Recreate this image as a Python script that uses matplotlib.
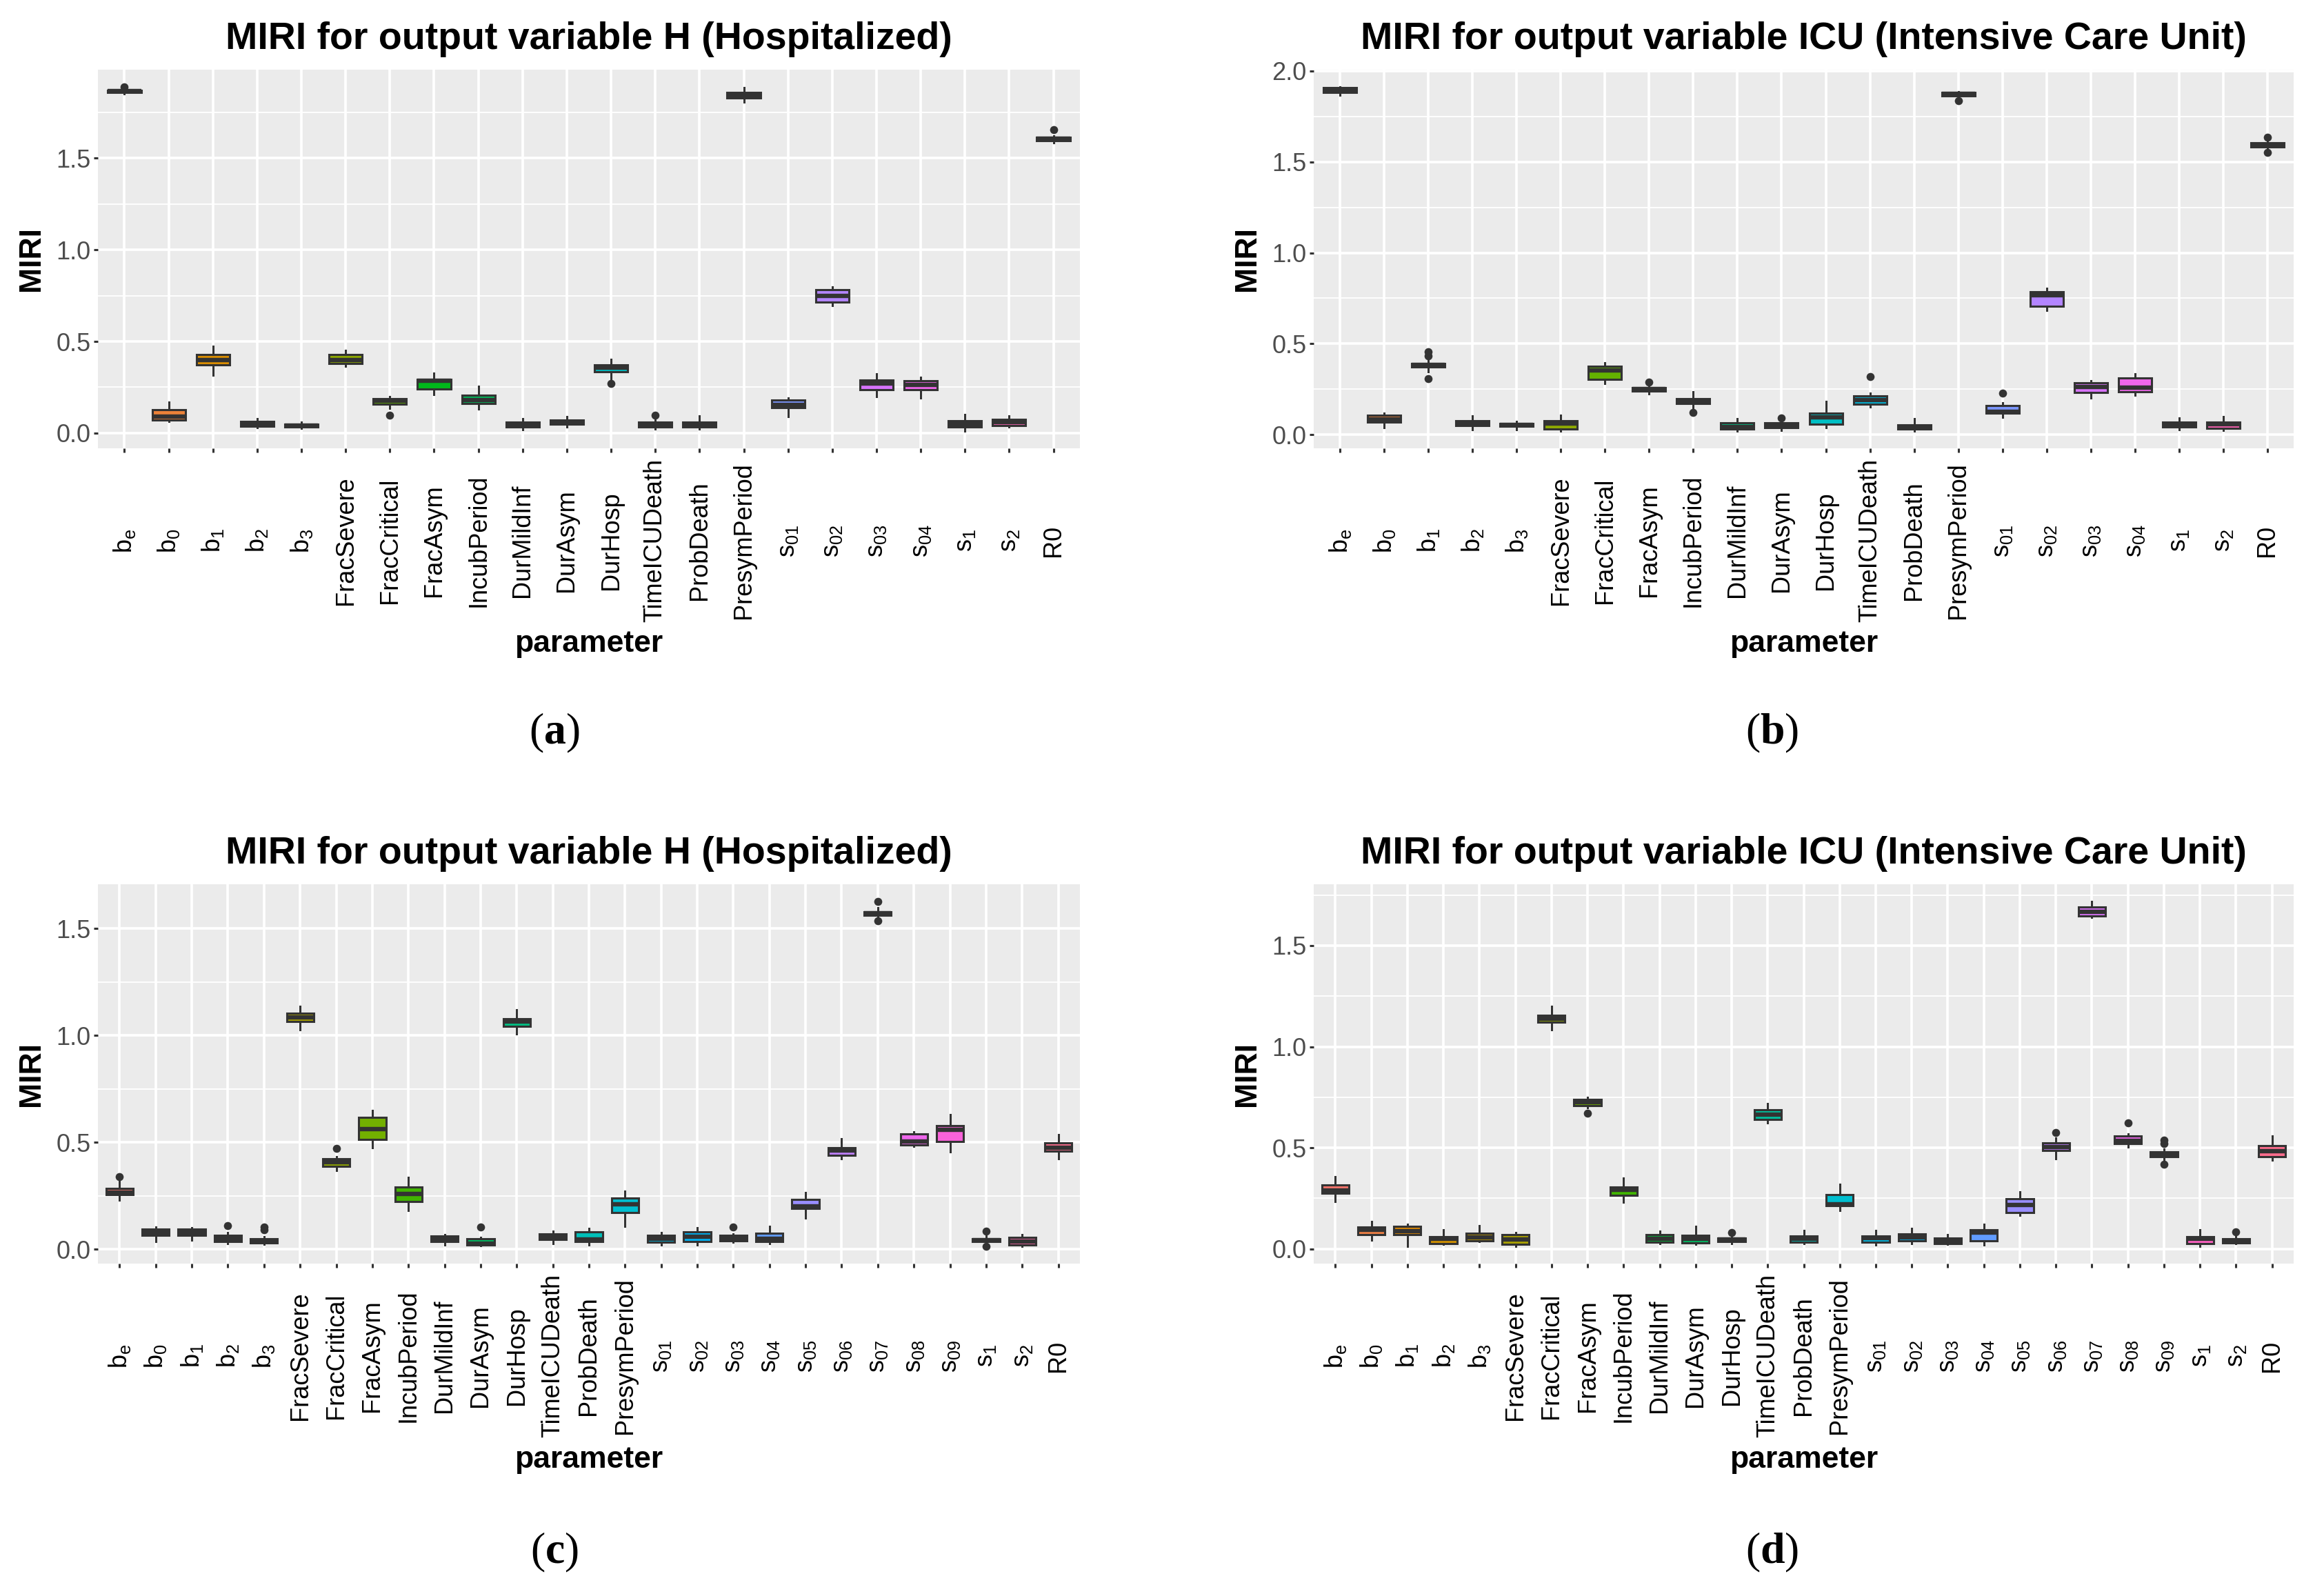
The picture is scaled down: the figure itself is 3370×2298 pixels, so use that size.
import numpy as np
import matplotlib
matplotlib.use("Agg")
import matplotlib.pyplot as plt
from matplotlib.ticker import MultipleLocator

plt.rcParams['font.family'] = ['Liberation Sans', 'DejaVu Sans']
plt.rcParams['mathtext.fontset'] = 'custom'
plt.rcParams['mathtext.bf'] = 'Liberation Serif:bold'
plt.rcParams['mathtext.default'] = 'regular'

# ---- categories ----
base_params = ['b$_e$', 'b$_0$', 'b$_1$', 'b$_2$', 'b$_3$', 'FracSevere', 'FracCritical',
               'FracAsym', 'IncubPeriod', 'DurMildInf', 'DurAsym', 'DurHosp',
               'TimeICUDeath', 'ProbDeath', 'PresymPeriod']
params_ab = base_params + ['s$_{01}$', 's$_{02}$', 's$_{03}$', 's$_{04}$', 's$_1$', 's$_2$', 'R0']
params_cd = base_params + ['s$_{0%d}$' % i for i in range(1, 10)] + ['s$_1$', 's$_2$', 'R0']

# ---- panel (a): H, 22 parameters ----
lo_a = [1.852, 0.062, 0.315, 0.030, 0.025, 0.364, 0.136, 0.211, 0.132, 0.020, 0.033,
        0.287, 0.024, 0.021, 1.805, 0.090, 0.695, 0.199, 0.192, 0.011, 0.033, 1.585]
q1_a = [1.858, 0.072, 0.372, 0.036, 0.032, 0.381, 0.157, 0.239, 0.163, 0.033, 0.047,
        0.335, 0.033, 0.034, 1.828, 0.138, 0.713, 0.238, 0.238, 0.034, 0.041, 1.594]
med_a = [1.864, 0.090, 0.398, 0.050, 0.040, 0.398, 0.178, 0.284, 0.179, 0.043, 0.058,
         0.357, 0.045, 0.047, 1.843, 0.153, 0.749, 0.269, 0.264, 0.050, 0.060, 1.604]
q3_a = [1.870, 0.129, 0.428, 0.063, 0.050, 0.428, 0.189, 0.294, 0.205, 0.060, 0.070,
        0.374, 0.060, 0.060, 1.857, 0.179, 0.782, 0.288, 0.284, 0.069, 0.075, 1.614]
hi_a = [1.876, 0.170, 0.474, 0.077, 0.060, 0.453, 0.199, 0.327, 0.254, 0.077, 0.090,
        0.401, 0.072, 0.093, 1.884, 0.193, 0.798, 0.325, 0.305, 0.102, 0.093, 1.622]
fl_a = [[1.888], [], [], [], [], [], [0.097], [], [], [], [],
        [0.269], [0.099], [], [], [], [], [], [], [], [], [1.653]]

# ---- panel (b): ICU, 22 parameters ----
lo_b = [1.865, 0.041, 0.345, 0.026, 0.026, 0.020, 0.281, 0.223, 0.145, 0.022, 0.023,
        0.038, 0.151, 0.020, 1.858, 0.096, 0.684, 0.203, 0.217, 0.028, 0.023, 1.571]
q1_b = [1.881, 0.070, 0.372, 0.052, 0.048, 0.030, 0.303, 0.241, 0.170, 0.033, 0.040,
        0.057, 0.167, 0.030, 1.864, 0.117, 0.707, 0.233, 0.236, 0.043, 0.036, 1.581]
med_b = [1.895, 0.085, 0.383, 0.065, 0.055, 0.062, 0.355, 0.250, 0.183, 0.043, 0.053,
         0.097, 0.190, 0.043, 1.873, 0.128, 0.768, 0.264, 0.258, 0.055, 0.058, 1.593]
q3_b = [1.909, 0.109, 0.393, 0.078, 0.063, 0.078, 0.375, 0.259, 0.199, 0.067, 0.066,
        0.119, 0.213, 0.055, 1.881, 0.161, 0.786, 0.284, 0.313, 0.069, 0.068, 1.604]
hi_b = [1.912, 0.119, 0.405, 0.103, 0.072, 0.109, 0.397, 0.270, 0.235, 0.087, 0.078,
        0.184, 0.229, 0.090, 1.886, 0.174, 0.806, 0.296, 0.336, 0.094, 0.101, 1.612]
fl_b = [[], [], [0.307, 0.435, 0.457], [], [], [], [], [0.290], [0.123], [], [0.093],
        [], [0.319], [], [1.835], [0.229], [], [], [], [], [], [1.551, 1.635]]

# ---- panel (c): H, 27 parameters ----
lo_c = [0.230, 0.038, 0.043, 0.026, 0.024, 1.026, 0.369, 0.475, 0.181, 0.019, 0.017,
        1.007, 0.028, 0.020, 0.106, 0.020, 0.019, 0.034, 0.026, 0.146, 0.425, 1.548,
        0.480, 0.457, 0.022, 0.014, 0.424]
q1_c = [0.257, 0.067, 0.066, 0.036, 0.031, 1.066, 0.389, 0.514, 0.222, 0.037, 0.021,
        1.043, 0.045, 0.035, 0.171, 0.032, 0.035, 0.041, 0.037, 0.191, 0.439, 1.561,
        0.488, 0.504, 0.035, 0.022, 0.459]
med_c = [0.265, 0.080, 0.080, 0.050, 0.040, 1.083, 0.408, 0.563, 0.260, 0.051, 0.028,
         1.064, 0.058, 0.047, 0.212, 0.050, 0.059, 0.051, 0.051, 0.202, 0.463, 1.570,
         0.505, 0.558, 0.042, 0.035, 0.475]
q3_c = [0.286, 0.093, 0.095, 0.066, 0.051, 1.104, 0.423, 0.618, 0.290, 0.061, 0.048,
        1.078, 0.071, 0.083, 0.240, 0.064, 0.083, 0.067, 0.074, 0.234, 0.474, 1.578,
        0.541, 0.577, 0.050, 0.056, 0.498]
hi_c = [0.323, 0.103, 0.100, 0.078, 0.060, 1.135, 0.434, 0.650, 0.338, 0.068, 0.056,
        1.121, 0.085, 0.099, 0.271, 0.080, 0.101, 0.072, 0.109, 0.265, 0.517, 1.598,
        0.549, 0.630, 0.065, 0.070, 0.535]
fl_c = [[0.340], [], [], [0.110], [0.090, 0.105], [], [0.472], [], [], [], [0.103],
        [], [], [], [], [], [], [0.104], [], [], [], [1.536, 1.626],
        [], [], [0.014, 0.084], [], []]

# ---- panel (d): ICU, 27 parameters ----
lo_d = [0.236, 0.042, 0.013, 0.022, 0.036, 0.013, 1.084, 0.700, 0.231, 0.027, 0.022,
        0.027, 0.623, 0.027, 0.192, 0.021, 0.028, 0.022, 0.020, 0.166, 0.446, 1.640,
        0.504, 0.444, 0.013, 0.025, 0.439]
q1_d = [0.274, 0.072, 0.070, 0.025, 0.040, 0.023, 1.121, 0.709, 0.266, 0.034, 0.031,
        0.037, 0.641, 0.032, 0.214, 0.033, 0.040, 0.027, 0.039, 0.181, 0.487, 1.645,
        0.521, 0.458, 0.027, 0.030, 0.458]
med_d = [0.290, 0.095, 0.089, 0.050, 0.056, 0.047, 1.138, 0.724, 0.291, 0.052, 0.050,
         0.046, 0.663, 0.050, 0.222, 0.054, 0.058, 0.037, 0.082, 0.217, 0.505, 1.668,
         0.535, 0.468, 0.051, 0.041, 0.484]
q3_d = [0.316, 0.107, 0.111, 0.061, 0.078, 0.070, 1.155, 0.740, 0.305, 0.070, 0.067,
        0.055, 0.688, 0.065, 0.270, 0.065, 0.076, 0.054, 0.094, 0.247, 0.524, 1.691,
        0.557, 0.479, 0.060, 0.052, 0.512]
hi_d = [0.356, 0.136, 0.121, 0.094, 0.115, 0.082, 1.200, 0.751, 0.350, 0.087, 0.111,
        0.062, 0.719, 0.091, 0.320, 0.091, 0.102, 0.070, 0.121, 0.282, 0.548, 1.718,
        0.568, 0.495, 0.094, 0.063, 0.559]
fl_d = [[], [], [], [], [], [], [], [0.670], [], [], [],
        [0.082], [], [], [], [], [], [], [], [], [0.576], [],
        [0.623], [0.419, 0.520, 0.539], [], [0.085], []]

title_h = 'MIRI for output variable H (Hospitalized)'
title_icu = 'MIRI for output variable ICU (Intensive Care Unit)'


def hue_pal(n, c=100.0, l=65.0):
    # ggplot2 default discrete palette (polarLUV -> sRGB, D65)
    hues = np.linspace(15, 375, n + 1)[:-1]
    xn, yn, zn = 95.047, 100.0, 108.883
    un = 4 * xn / (xn + 15 * yn + 3 * zn)
    vn = 9 * yn / (xn + 15 * yn + 3 * zn)
    out = []
    for h in hues:
        u_ = c * np.cos(np.radians(h))
        v_ = c * np.sin(np.radians(h))
        y = yn * ((l + 16) / 116) ** 3
        u = u_ / (13 * l) + un
        v = v_ / (13 * l) + vn
        x = 9.0 * y * u / (4 * v)
        z = -x / 3 - 5 * y + 3 * y / v
        m = np.array([[3.240479, -1.537150, -0.498535],
                      [-0.969256, 1.875992, 0.041556],
                      [0.055648, -0.204043, 1.057311]])
        rgb = m @ (np.array([x, y, z]) / 100.0)
        rgb = np.where(rgb > 0.0031308, 1.055 * np.abs(rgb) ** (1 / 2.4) - 0.055, 12.92 * rgb)
        out.append(tuple(np.clip(rgb, 0, 1)))
    return out


def draw_panel(ax, labels, lo, q1, med, q3, hi, fl, title):
    n = len(labels)
    stats = []
    for i in range(n):
        stats.append(dict(whislo=lo[i], q1=q1[i], med=med[i], q3=q3[i],
                          whishi=hi[i], fliers=fl[i]))
    pos = np.arange(1, n + 1)
    edge = '#333333'
    bp = ax.bxp(stats, positions=pos, widths=0.75, patch_artist=True, showcaps=False,
                boxprops=dict(edgecolor=edge, linewidth=1.1),
                whiskerprops=dict(color=edge, linewidth=1.1),
                medianprops=dict(color=edge, linewidth=2.3, solid_capstyle='butt'),
                flierprops=dict(marker='o', markerfacecolor=edge, markeredgecolor='none',
                                markersize=4.2))
    for patch, col in zip(bp['boxes'], hue_pal(n)):
        patch.set_facecolor(col)

    # ggplot-like limits: 5% expansion of data range, 0.6 on discrete axis
    allv = list(lo) + list(hi) + [v for f in fl for v in f]
    vmin, vmax = min(allv), max(allv)
    rng = vmax - vmin
    ax.set_ylim(vmin - 0.05 * rng, vmax + 0.05 * rng)
    ax.set_xlim(0.4, n + 0.6)

    ax.set_facecolor('#EBEBEB')
    for s in ax.spines.values():
        s.set_visible(False)
    ax.yaxis.set_major_locator(MultipleLocator(0.5))
    ax.yaxis.set_minor_locator(MultipleLocator(0.25))
    ax.yaxis.set_major_formatter(matplotlib.ticker.FormatStrFormatter('%.1f'))
    ax.set_axisbelow(True)
    ax.grid(which='major', axis='both', color='white', linewidth=1.3)
    ax.grid(which='minor', axis='y', color='white', linewidth=0.65)
    ax.tick_params(axis='y', which='minor', length=0)
    ax.tick_params(axis='both', which='major', color=edge, width=1.1, length=2.2)
    ax.tick_params(axis='y', labelsize=13, labelcolor='#4D4D4D', pad=1.5)

    ax.set_xticks(pos)
    ax.set_xticklabels(labels, rotation=90, fontsize=13, color='black',
                       va='center', ha='center')
    ax.tick_params(axis='x', pad=46)

    ax.set_xlabel('parameter', fontsize=16, fontweight='bold', va='center')
    ax.xaxis.set_label_coords(0.5, -0.517)
    ax.set_ylabel('MIRI', fontsize=16, fontweight='bold', va='center')
    ax.yaxis.set_label_coords(-0.068, 0.5)
    ax.text(0.5, 1 + 44 / 549, title, transform=ax.transAxes, ha='center', va='center',
            fontsize=20, fontweight='bold')


W, H = 3370, 2298
fig = plt.figure(figsize=(W / 200, H / 200), dpi=200)

ax_a = fig.add_axes([142 / W, 1 - 650 / H, 1424 / W, 549 / H])
ax_b = fig.add_axes([1905 / W, 1 - 650 / H, 1421 / W, 549 / H])
ax_c = fig.add_axes([142 / W, 1 - 1832 / H, 1424 / W, 550 / H])
ax_d = fig.add_axes([1905 / W, 1 - 1832 / H, 1421 / W, 550 / H])

draw_panel(ax_a, params_ab, lo_a, q1_a, med_a, q3_a, hi_a, fl_a, title_h)
draw_panel(ax_b, params_ab, lo_b, q1_b, med_b, q3_b, hi_b, fl_b, title_icu)
draw_panel(ax_c, params_cd, lo_c, q1_c, med_c, q3_c, hi_c, fl_c, title_h)
draw_panel(ax_d, params_cd, lo_d, q1_d, med_d, q3_d, hi_d, fl_d, title_icu)

# subfigure captions
for lab, x, y in [('a', 804, 1063), ('b', 2570, 1063), ('c', 804, 2251), ('d', 2570, 2251)]:
    fig.text(x / W, 1 - y / H, r'($\mathbf{%s}$)' % lab, family='Liberation Serif',
             fontsize=23, ha='center', va='center')

fig.savefig('out.png', dpi=200)
